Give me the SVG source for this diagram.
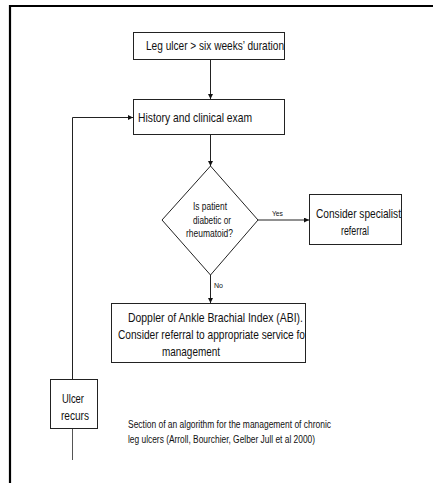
<svg xmlns="http://www.w3.org/2000/svg" width="433" height="483" viewBox="0 0 433 483">
<defs>
<style>
.box{fill:#fff;stroke:#222;stroke-width:1}
.ln{fill:none;stroke:#222;stroke-width:1}
text{font-family:"Liberation Sans",Arial,sans-serif;fill:#111}
.t12{font-size:13px}
.t10{font-size:10.5px}
.t8{font-size:7.5px}
.t9{font-size:10px}
</style>
<marker id="ah" viewBox="0 0 8 8" refX="8" refY="4" markerWidth="5" markerHeight="5" orient="auto" markerUnits="userSpaceOnUse">
<path d="M0,0 L8,4 L0,8 z" fill="#111"/>
</marker>
</defs>
<rect width="433" height="483" fill="#fff"/>
<g id="frame">
<path d="M10,483 L10,6 L433,6" fill="none" stroke="#000" stroke-width="2.2"/>
</g>
<g id="connectors">
<line class="ln" x1="210.5" y1="59" x2="210.5" y2="99" marker-end="url(#ah)"/>
<line class="ln" x1="210.5" y1="135" x2="210.5" y2="166" marker-end="url(#ah)"/>
<line class="ln" x1="258" y1="220" x2="309" y2="220" marker-end="url(#ah)"/>
<line class="ln" x1="210.5" y1="275" x2="210.5" y2="303" marker-end="url(#ah)"/>
<polyline class="ln" points="72.5,379 72.5,117.5 133,117.5" marker-end="url(#ah)"/>
<line x1="72.5" y1="429" x2="72.5" y2="460" stroke="#555" stroke-width="1"/>
<text class="t8" x="272" y="216" textLength="11" lengthAdjust="spacingAndGlyphs">Yes</text>
<text class="t8" x="214" y="287.5" textLength="9" lengthAdjust="spacingAndGlyphs">No</text>
</g>
<g id="n1">
<rect class="box" x="133.5" y="32.5" width="151" height="27"/>
<text class="t12" x="146" y="50" textLength="138" lengthAdjust="spacingAndGlyphs">Leg ulcer &gt; six weeks’ duration</text>
</g>
<g id="n2">
<rect class="box" x="133.5" y="99.5" width="151" height="35"/>
<text class="t12" x="138" y="122" textLength="114" lengthAdjust="spacingAndGlyphs">History and clinical exam</text>
</g>
<g id="n3">
<polygon class="box" points="210.5,166 258,220 210.5,275 162,220"/>
<text class="t10" x="193" y="210" textLength="34" lengthAdjust="spacingAndGlyphs">Is patient</text>
<text class="t10" x="193" y="224" textLength="38" lengthAdjust="spacingAndGlyphs">diabetic or</text>
<text class="t10" x="186" y="237" textLength="47" lengthAdjust="spacingAndGlyphs">rheumatoid?</text>
</g>
<g id="n4">
<rect class="box" x="309.5" y="194.5" width="92" height="50"/>
<text class="t12" x="316" y="218" textLength="85" lengthAdjust="spacingAndGlyphs">Consider specialist</text>
<text class="t12" x="341" y="235" textLength="28" lengthAdjust="spacingAndGlyphs">referral</text>
</g>
<g id="n5">
<rect class="box" x="111.5" y="303.5" width="194" height="59"/>
<text class="t12" x="128" y="322" textLength="175" lengthAdjust="spacingAndGlyphs">Doppler of Ankle Brachial Index (ABI).</text>
<text class="t12" x="118" y="339" textLength="187" lengthAdjust="spacingAndGlyphs">Consider referral to appropriate service fo</text>
<text class="t12" x="162" y="356" textLength="58" lengthAdjust="spacingAndGlyphs">management</text>
</g>
<g id="n6">
<rect class="box" x="50.5" y="379.5" width="47" height="49"/>
<text class="t12" x="62" y="403" textLength="22" lengthAdjust="spacingAndGlyphs">Ulcer</text>
<text class="t12" x="61" y="420" textLength="28" lengthAdjust="spacingAndGlyphs">recurs</text>
</g>
<g id="caption">
<text class="t9" x="128" y="428" textLength="203" lengthAdjust="spacingAndGlyphs">Section of an algorithm for the management of chronic</text>
<text class="t9" x="128" y="443" textLength="187" lengthAdjust="spacingAndGlyphs">leg ulcers (Arroll, Bourchier, Gelber Jull et al 2000)</text>
</g>
</svg>
